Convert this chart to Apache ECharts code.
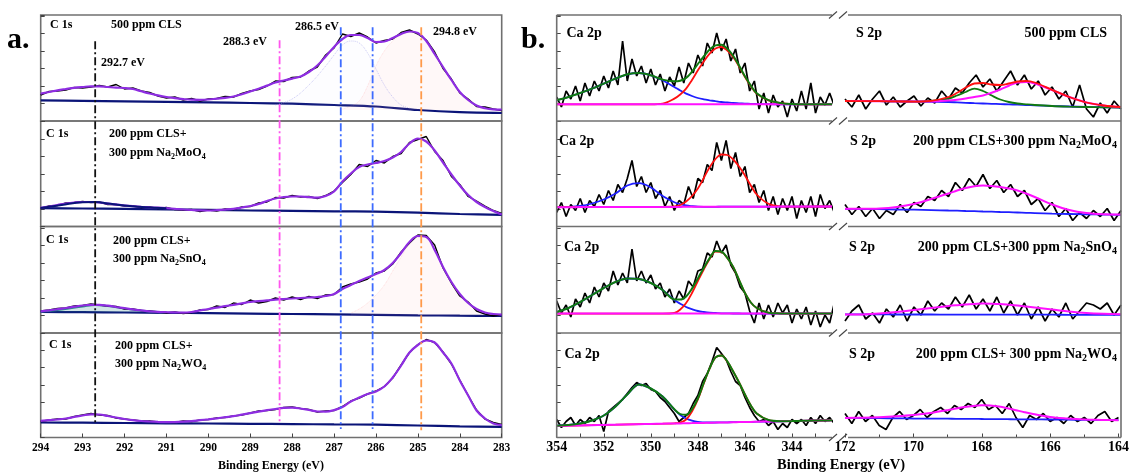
<!DOCTYPE html>
<html><head><meta charset="utf-8">
<script src="https://cdn.jsdelivr.net/npm/echarts@6/dist/echarts.min.js"></script>
<style>html,body{margin:0;padding:0;background:#fff}#c{width:1132px;height:472px}</style>
</head><body><div id="c"></div>
<script>
// ---------------- DATA ----------------
// Panel a: C 1s spectra (intensity in arbitrary units)
const cX = [294.0,293.8,293.6,293.4,293.2,293.0,292.8,292.6,292.4,292.2,292.0,291.8,291.6,291.4,291.2,291.0,290.8,290.6,290.4,290.2,290.0,289.8,289.6,289.4,289.2,289.0,288.8,288.6,288.4,288.2,288.0,287.8,287.6,287.4,287.2,287.0,286.8,286.6,286.4,286.2,286.0,285.8,285.6,285.4,285.2,285.0,284.8,284.6,284.4,284.2,284.0,283.8,283.6,283.4,283.2,283.0];
const c1Raw = [26,29.5,30,31,33.5,33,34,35.5,34,36.5,32,33,30,28.5,25,23,24,21,22.5,20,22,22.5,24.5,24,27.5,30,31.5,35,40,39.5,43.5,44,50,54,66,73,87,84.5,88,84,78,80.5,82,88.5,91,87,81,69,52.5,42,28,22,14.5,14,12,10.5];
const c1Fit = [27.4,29,30.7,32,33.2,34,34.6,34.6,34,33.4,33,32,29.7,27.5,25.6,24,22.8,21.9,21.3,21.2,21.5,22.3,23.1,24.5,26.7,29.5,32.3,35.4,38.5,40.5,42.4,44.5,49,55.5,64.5,74,82,86,86,83,79,79.5,83,87,89.5,88,80,67,54,41,29,21,15.5,12.8,11.6,11.4];
const c2Raw = [18,20.5,21,23.5,24,25,24,24.5,22,22,20.5,20.5,19,19.5,18,19,17,16.5,17,15,16.5,15.5,17.5,17,19.5,20,23.5,24.5,29,28.5,31,29.5,30,28,31,35.5,44,52,62,60,66,63.5,70,73,84,87,90,75,66,50,42,30,25.5,20.5,16,13];
const c2Fit = [18.7,20,21.5,23,24,24.5,24.5,24,22.8,21.8,21,20.3,19.7,19.2,18.8,18.3,17.7,17,16.5,16.1,16,16.3,16.9,17.7,19,20.5,22.5,25.5,28,29.5,30,30,29.3,28.8,30.5,35,45,53,59.5,62,63.5,65.5,69,74.5,83,88,85,76,64,52,41,31.5,24.5,19.5,15.5,12];
const c3Raw = [22,23,24.5,25,27,27.5,29,28,27,26.5,24,24,22.5,22,21,20,21,19.5,20.5,23,23.5,27,25.5,30,28.5,33,30,31.5,35,33,36,33.5,36.5,34.5,38,38.5,46,49,51,54,60,62,69,81,90,98,97.5,88,65,50,37,31,22,19,17,18.5];
const c3Fit = [21.7,22.7,23.8,25,26.3,27.5,28.2,28.2,27.3,26,24.8,23.6,22.6,21.7,21.1,20.8,20.6,20.4,21,22.5,24,25.3,26.8,28.2,29.6,31,31.8,32.6,33.4,34,34.5,35,35.5,36,37,39,44,48,52,55.5,59,63,70,80,91,97,96,83,66,51,39,30,24,20.5,19,18.4];
const c4Raw = [16,17.5,18.5,18.5,21,22.5,24,22.5,22,19.5,18.5,17.5,16.5,16.5,15.5,15.5,15,16.5,16,17.5,18,19.5,20,21.5,22.5,24.5,26.5,27,28,30,30.5,29,28,25.5,26.5,27,31,36.5,39.5,43.5,46.5,51,59.5,72.5,85,93,98,95,85.5,73.5,57.5,42,27.5,18.5,15,13];
const c4Fit = [16.6,17.3,18,19,20.5,22,23.2,23,21.5,20,18.5,17.3,16.5,16,15.6,15.3,15.4,15.8,16.4,17.3,18.2,19.2,20.3,21.3,22.8,24.3,25.8,27.3,28.5,29.6,29.8,29,27.5,26,25.9,27.4,30.5,36,40,43.5,46,51,60,72,85,92.5,97,95,85,74,57,42,27,19,14,12.3];
const bX = [294,293,292,291,290,289,288,287,286,285,284,283];
const c1Base = [20.7,20.2,19.7,19.2,18.7,18,17.3,16,14.5,11,8.8,8];
const c2Base = [18.3,18,17.6,17.2,16.6,16,15.6,15.2,14.8,13.8,12.5,11.7];
const c3Base = [21,20.8,20.5,20.2,19.8,19.4,19,18.6,18.2,17.7,17.3,17];
const c4Base = [15,14.8,14.5,14.2,14,13.7,13.4,13.1,12.8,12,11.2,10.6];
// fitted components (panel a)
const c1PeakX = [286.8,286.6,286.4,286.2,286.0,285.8,285.6,285.4,285.2,285.0,284.8,284.6,284.4,284.2,284.0,283.8,283.6,283.4,283.2,283.0];
const c1Peak = [12,15,20,35,55,70,80,86,89,87.5,80,67,54,41,29,21,15.5,12.8,11.6,11.4];
const c1MidX = [288.4,288.0,287.6,287.2,287.0,286.8,286.6,286.4,286.2,286.0,285.8,285.6,285.4,285.2];
const c1Mid = [16,22,36,55,66,76,80,78,68,52,36,24,16,13];
const c3PeakX = [286.6,286.4,286.2,286.0,285.8,285.6,285.4,285.2,285.0,284.8,284.6,284.4,284.2,284.0,283.8,283.6,283.4];
const c3Peak = [20,24,30,38,48,62,76,89,96,95,83,66,51,39,30,24,20.5];
const lowX = [294,293.5,293,292.7,292.4,292,291.5,291];
const c2Low = [18.5,21.5,24.3,24.5,23,21,19.3,18.3];
const c3Low = [21.5,23.5,26.5,28,27,24.5,22,20.5];
// reference energies (dash-dot lines)
const markerEV = [292.7, 288.3, 286.84, 286.08, 284.92];

// Panel b: Ca 2p and S 2p
const caX = [354.0,353.8,353.6,353.4,353.2,353.0,352.8,352.6,352.4,352.2,352.0,351.8,351.6,351.4,351.2,351.0,350.8,350.6,350.4,350.2,350.0,349.8,349.6,349.4,349.2,349.0,348.8,348.6,348.4,348.2,348.0,347.8,347.6,347.4,347.2,347.0,346.8,346.6,346.4,346.2,346.0,345.8,345.6,345.4,345.2,345.0,344.8,344.6,344.4,344.2,344.0,343.8,343.6,343.4,343.2,343.0,342.8,342.6,342.4,342.2];
const ca1Raw = [24,14,30,22,35,20,38,25,40,30,45,33,50,36,80,40,62,45,55,38,52,36,47,30,44,35,54,38,58,48,66,55,78,68,88,70,82,60,72,48,58,30,40,12,28,8,26,14,20,4,22,10,30,12,38,8,24,16,28,15];
const ca2Raw = [14,24,10,22,16,28,14,26,20,32,22,36,26,42,34,48,66,40,50,34,44,28,36,20,30,16,26,22,40,28,48,44,62,56,84,66,86,58,74,50,60,34,42,24,36,16,30,12,28,16,30,8,26,14,30,10,32,18,26,14];
const ca3Raw = [32,20,28,16,34,26,40,30,46,36,50,42,62,48,60,50,84,52,62,50,58,44,50,36,44,30,42,34,52,46,62,64,80,76,92,80,88,68,60,46,40,22,10,30,14,28,16,30,20,28,10,24,14,26,8,22,6,18,10,30];
const ca4Raw = [18,10,16,20,12,18,14,20,16,22,6,26,30,34,38,44,50,55,52,54,48,46,40,36,30,24,16,20,24,34,42,56,64,76,90,84,78,66,56,52,40,30,22,16,18,12,16,8,14,10,18,14,18,12,20,14,22,16,20,14];
const caFitX = [354,353.5,353,352.5,352,351.5,351,350.5,350,349.5,349,348.75,348.5,348.25,348,347.75,347.5,347.25,347,346.75,346.5,346.25,346,345.75,345.5,345,344.5,344,343.5,343,342.5,342.3];
const ca1Blue = [20.7,24,28,32.4,37.4,42.4,46.7,48,45.7,40.7,34,30.5,27.4,25,23,21.7,20.7,19.8,19,18.5,18,17.7,17.4,17.2,17,16.8,16.7,16.7,16.7,16.7,16.7,16.7];
const ca1Red = [16.7,16.7,16.7,16.7,16.7,16.7,16.7,16.7,16.7,17.4,22.4,26.5,32.4,41,50.7,59.5,67.4,72.5,74,70.5,64,54.5,44,35,27.4,20.7,18,16.9,16.7,16.7,16.7,16.7];
const ca1Green = [20.7,24,28,32.4,37.4,42.4,46.7,48,45.7,41.4,39.7,40.3,43.1,49.3,57,64.5,71.4,75.6,76.3,72.3,65.3,55.5,44.7,35.5,27.7,20.8,18,16.9,16.7,16.7,16.7,16.7];
const ca1Mag = [16.7,16.7,16.7,16.7,16.7,16.7,16.7,16.7,16.7,16.7,16.7,16.7,16.7,16.7,16.7,16.7,16.7,16.7,16.7,16.7,16.7,16.7,16.7,16.7,16.7,16.7,16.7,16.7,16.7,16.7,16.7,16.7];
const ca2Blue = [19.4,19.6,20.5,23,27,33,41,43.3,39,30.5,24.3,22.3,21,20.3,19.8,19.7,19.7,19.7,19.8,19.8,19.8,19.8,19.8,19.8,19.8,19.8,19.9,19.9,19.9,20,20,20];
const ca2Red = [19.3,19.3,19.4,19.4,19.4,19.5,19.5,19.5,19.6,19.6,20,21.5,25,30.5,38,48.5,59.3,67.5,72,71.5,67,60,51,41,32,22.7,20.2,19.9,19.9,20,20,20];
const ca2Mag = [19.3,19.3,19.4,19.4,19.4,19.5,19.5,19.5,19.6,19.6,19.6,19.6,19.7,19.7,19.7,19.7,19.7,19.7,19.8,19.8,19.8,19.8,19.8,19.8,19.8,19.8,19.9,19.9,19.9,20,20,20];
const ca3Blue = [21,25,31,38,45,51,54.5,54,50,43,33,29.3,26,23.8,22,21,20.3,20,19.7,19.6,19.5,19.5,19.4,19.4,19.4,19.4,19.4,19.4,19.4,19.4,19.4,19.4];
const ca3Red = [19.4,19.4,19.4,19.4,19.4,19.4,19.4,19.4,19.4,19.4,20,23.5,30,40,52,63.5,74,81.5,81,75,66,53,40,30.5,25,20.3,19.6,19.4,19.4,19.4,19.4,19.4];
const ca3Green = [21,25,31,38,45,51,54.5,54,50,43,33.6,33.4,36.6,44.4,54.6,65.1,74.9,82.1,81.3,75.2,66.1,53.1,40,30.5,25,20.3,19.6,19.4,19.4,19.4,19.4,19.4];
const ca3Mag = [19.4,19.4,19.4,19.4,19.4,19.4,19.4,19.4,19.4,19.4,19.4,19.4,19.4,19.4,19.4,19.4,19.4,19.4,19.4,19.4,19.4,19.4,19.4,19.4,19.4,19.4,19.4,19.4,19.4,19.4,19.4,19.4];
const ca4Blue = [11.8,12.5,14,17,22,31,43,53,49,41,28,22.5,19,16.8,15.5,15.1,15,15,15.1,15.2,15.3,15.4,15.5,15.6,15.8,16,16.2,16.4,16.7,16.9,17.1,17.3];
const ca4Red = [11.6,11.8,12.1,12.3,12.6,12.8,13.1,13.3,13.5,13.8,14.2,15,18,26,38,54,69,80,82,76,66,55,43,32,24,17.5,16.3,16.4,16.7,16.9,17.1,17.3];
const ca4Green = [11.8,12.5,14,17,22,31,43,53,49,41,28.2,23.4,22.7,28.4,39,54.5,69.2,80.1,82.1,76.1,66,55,43,32,24,17.5,16.3,16.4,16.7,16.9,17.1,17.3];
const ca4Mag = [11.6,11.8,12.1,12.3,12.6,12.8,13.1,13.3,13.5,13.8,14,14.1,14.3,14.4,14.5,14.6,14.8,14.9,15,15.1,15.3,15.4,15.5,15.6,15.8,16,16.2,16.4,16.7,16.9,17.1,17.3];

const sX = [172.0,171.8,171.6,171.4,171.2,171.0,170.8,170.6,170.4,170.2,170.0,169.8,169.6,169.4,169.2,169.0,168.8,168.6,168.4,168.2,168.0,167.8,167.6,167.4,167.2,167.0,166.8,166.6,166.4,166.2,166.0,165.8,165.6,165.4,165.2,165.0,164.8,164.6,164.4,164.2,164.0];
const s1Raw = [22,14,26,12,22,30,16,24,14,20,25,15,23,18,30,22,33,28,38,46,34,42,30,40,50,36,46,32,40,26,34,22,30,14,36,12,4,18,8,20,12];
const s2Raw = [22,12,20,10,18,8,16,12,22,14,24,20,30,26,36,30,44,36,48,40,52,38,46,34,42,30,36,22,28,16,24,10,18,6,14,8,16,10,18,6,16];
const s3Raw = [12,22,28,14,20,10,24,16,28,12,26,18,32,22,30,24,36,26,38,24,34,22,36,20,32,18,30,14,26,12,24,16,30,14,22,30,28,24,30,18,28];
const s4Raw = [24,14,26,16,22,12,8,20,26,18,22,28,20,26,30,24,32,28,34,30,38,28,32,24,34,20,10,22,18,24,16,20,14,22,16,20,14,22,26,16,20];
const sFitX = [172,171.5,171,170.5,170,169.5,169,168.75,168.5,168.25,168,167.75,167.5,167.25,167,166.75,166.5,166,165.5,165,164.5,164];
const s1Blue = [20,19.9,19.8,19.6,19.4,19.2,19,18.6,18.2,17.8,17.5,17.2,16.9,16.6,16.4,16,15.7,15,14.5,14,13.7,13.4];
const s1Green = [20,20,19.8,19.6,19.4,20,22.5,25.5,29,32.4,30,25.5,21.5,19,17.5,16.7,16,15,14.4,14,13.7,13.4];
const s1Mag = [20,19.9,19.8,19.6,19.4,19.5,20.5,21.3,22.5,24,25.5,28.3,31.5,35.3,38.5,39,37.5,31,24,18.5,15.5,14];
const s1Red = [20,19.9,19.8,19.6,19.4,20.1,24,28.2,33.5,37.5,38,36.5,36,37.5,39.5,40,38.5,31.2,24,18.5,15.5,14];
const s2Blue = [17.7,17.5,17.3,17,16.8,16.4,16,15.8,15.5,15.3,15,14.8,14.5,14.3,14,13.7,13.4,12.8,12.5,12.2,11.9,11.7];
const s2Mag = [17.7,17.7,18,19.5,22.5,27.5,33,36,38.5,40.3,41,40.5,39.5,38,36,33,29.5,22,16.5,13.5,12.3,12];
const s3Blue = [18.6,18.6,18.6,18.5,18.5,18.5,18.4,18.4,18.4,18.4,18.4,18.4,18.3,18.3,18.3,18.3,18.3,18.3,18.2,18.2,18.2,18.2];
const s3Mag = [18.4,18.6,19.5,21,23,25,27,27.8,28.5,29,29.4,29.3,29,28.3,27.5,26.5,25.5,23.5,21.5,20,19.2,18.8];
const s4Blue = [19.6,19.5,19.3,19.2,19,18.9,18.8,18.7,18.6,18.6,18.5,18.4,18.4,18.3,18.2,18.2,18.1,18,17.8,17.6,17.5,17.3];
const s4Mag = [19.6,19.8,20.3,21.2,22.5,24.5,27.3,29,30.5,31.6,32.3,32,31,29.3,27.3,25.3,23.5,20.5,19,18,17.6,17.3];
const caLabelTicks = [354,352,350,348,346,344];
const caMinorTicks = [354,353,352,351,350,349,348,347,346,345,344,343];

// Text
const cSamples = [['500 ppm CLS'], ['200 ppm CLS+','300 ppm Na_2MoO_4'], ['200 ppm CLS+','300 ppm Na_2SnO_4'], ['200 ppm CLS+','300 ppm Na_2WO_4']];
const bSamples = ['500 ppm CLS', '200 ppm CLS+300 ppm Na_2MoO_4', '200 ppm CLS+300 ppm Na_2SnO_4', '200 ppm CLS+ 300 ppm Na_2WO_4'];
const peakLabels = ['292.7 eV','288.3 eV','286.5 eV','294.8 eV'];

// ---------------- LAYOUT / STYLE ----------------
const FONT = '"Liberation Serif","Times New Roman",serif';
const ROW_T = [15, 121, 226.5, 333];
const ROW_B = [121, 226.5, 333, 437.5];
const A_L = 40.7, A_R = 501.7;
const CA_L = 556.7, CA_R = 832, S_L = 845, S_R = 1121;
const FRAME = '#707070';
const PURPLE = '#8e2de2', NAVY = '#0a1478';
const BLUE = '#1f1fff', RED = '#ff1010', GREEN = '#107a10', MAG = '#ff10ff';

const zip = (xs, ys) => xs.map((x, i) => [x, ys[i]]);
const grid = [], xAxis = [], yAxis = [], series = [];

function line(idx, data, color, width, z, extra) {
  series.push(Object.assign({
    type: 'line', xAxisIndex: idx, yAxisIndex: idx, data, symbol: 'none',
    lineStyle: { color, width }, itemStyle: { color }, z, silent: true, animation: false
  }, extra || {}));
}
function yAx(idx, h, showTicks) {
  return { gridIndex: idx, type: 'value', min: 0, max: h, interval: 17.5,
    axisLine: { show: false }, splitLine: { show: false },
    axisTick: { show: showTicks, inside: true, length: 4, lineStyle: { color: '#444' } },
    axisLabel: { show: false } };
}

// Panel a
const cRaw = [c1Raw, c2Raw, c3Raw, c4Raw];
const cFit = [c1Fit, c2Fit, c3Fit, c4Fit];
const cBase = [c1Base, c2Base, c3Base, c4Base];
for (let i = 0; i < 4; i++) {
  const idx = grid.length, h = ROW_B[i] - ROW_T[i], last = i === 3;
  grid.push({ left: A_L, width: A_R - A_L, top: ROW_T[i], height: h, show: true,
    borderColor: FRAME, borderWidth: 1.6, backgroundColor: 'transparent' });
  xAxis.push({ gridIndex: idx, type: 'value', min: 283, max: 294, inverse: true, interval: 1,
    axisLine: { show: false }, splitLine: { show: false },
    axisTick: { show: last, inside: true, length: 4, lineStyle: { color: '#444' } },
    axisLabel: { show: last, fontFamily: FONT, fontWeight: 'bold', fontSize: 11.5, color: '#000', margin: 5 } });
  yAxis.push(yAx(idx, h, true));
  line(idx, zip(bX, cBase[i]), NAVY, 2.2, 2, { smooth: 0.3 });
  if (i === 0) {
    line(idx, zip(c1PeakX, c1Peak), 'rgba(255,140,140,0.35)', 0.8, 3,
      { smooth: 0.4, lineStyle: { color: 'rgba(255,140,140,0.35)', width: 0.8, type: 'dotted' },
        areaStyle: { color: 'rgba(255,175,175,0.13)', origin: 11 } });
    line(idx, zip(c1MidX, c1Mid), 'rgba(160,160,235,0.55)', 1, 3,
      { smooth: 0.4, lineStyle: { color: 'rgba(160,160,235,0.55)', width: 1, type: 'dotted' },
        areaStyle: { color: 'rgba(205,205,250,0.06)', origin: 15 } });
  }
  if (i === 2) {
    line(idx, zip(c3PeakX, c3Peak), 'rgba(255,140,140,0.35)', 0.8, 3,
      { smooth: 0.4, lineStyle: { color: 'rgba(255,140,140,0.35)', width: 0.8, type: 'dotted' },
        areaStyle: { color: 'rgba(255,175,175,0.13)', origin: 17.5 } });
    line(idx, zip(lowX, c3Low), '#2a8a8a', 1.8, 3,
      { smooth: 0.4, areaStyle: { color: 'rgba(42,138,138,0.3)', origin: 20.5 } });
  }
  line(idx, zip(cX, cRaw[i]), '#000', 1.4, 4);
  line(idx, zip(cX, cFit[i]), PURPLE, 2.2, 5, { smooth: 0.4 });
  if (i === 1) line(idx, zip(lowX, c2Low), NAVY, 2, 6, { smooth: 0.4 });
}
// overlay for reference lines across the four C 1s frames
{
  const idx = grid.length;
  grid.push({ left: A_L, width: A_R - A_L, top: ROW_T[0], height: ROW_B[3] - ROW_T[0], show: false });
  xAxis.push({ gridIndex: idx, type: 'value', min: 283, max: 294, inverse: true, show: false });
  yAxis.push({ gridIndex: idx, type: 'value', min: 0, max: 1, show: false });
  const mTop = [0.938, 0.94, 0.971, 0.971, 0.971], mBot = [0.031, 0.034, 0.02, 0.02, 0.017];
  const mCol = ['#111111', '#ff55ee', '#3d6bff', '#3d6bff', '#ff9a4a'];
  markerEV.forEach((e, k) => {
    line(idx, [[e, mTop[k]], [e, mBot[k]]], mCol[k], 1.8, 8,
      { lineStyle: { color: mCol[k], width: 1.8, type: [8, 3, 2, 3] } });
  });
}

// Panel b
const caRaw = [ca1Raw, ca2Raw, ca3Raw, ca4Raw];
const caBlue = [ca1Blue, ca2Blue, ca3Blue, ca4Blue];
const caRed = [ca1Red, ca2Red, ca3Red, ca4Red];
const caGreen = [ca1Green, null, ca3Green, ca4Green];
const caMag = [ca1Mag, ca2Mag, ca3Mag, ca4Mag];
const sRaw = [s1Raw, s2Raw, s3Raw, s4Raw];
const sBlue = [s1Blue, s2Blue, s3Blue, s4Blue];
const sMag = [s1Mag, s2Mag, s3Mag, s4Mag];
const bLabel = { fontFamily: FONT, fontWeight: 'bold', fontSize: 14, color: '#000', margin: 3 };
for (let i = 0; i < 4; i++) {
  const h = ROW_B[i] - ROW_T[i], last = i === 3;
  let idx = grid.length;
  grid.push({ left: CA_L, width: CA_R - CA_L, top: ROW_T[i], height: h, show: false });
  xAxis.push({ gridIndex: idx, type: 'value', min: 342.3, max: 354, inverse: true,
    axisLine: { show: false }, splitLine: { show: false },
    axisTick: { show: last, inside: true, length: 4, customValues: caMinorTicks, lineStyle: { color: '#444' } },
    axisLabel: Object.assign({ show: last, customValues: caLabelTicks }, bLabel) });
  yAxis.push(yAx(idx, h, true));
  line(idx, zip(caX, caRaw[i]), '#000', 1.7, 2);
  line(idx, zip(caFitX, caBlue[i]), BLUE, 1.8, 3, { smooth: 0.35 });
  line(idx, zip(caFitX, caRed[i]), RED, 1.8, 4, { smooth: 0.35 });
  line(idx, zip(caFitX, caMag[i]), MAG, 2, 5, { smooth: 0.35 });
  if (caGreen[i]) line(idx, zip(caFitX, caGreen[i]), GREEN, 2, 6, { smooth: 0.35 });

  idx = grid.length;
  grid.push({ left: S_L, width: S_R - S_L, top: ROW_T[i], height: h, show: false });
  xAxis.push({ gridIndex: idx, type: 'value', min: 164, max: 172, inverse: true, interval: 2,
    axisLine: { show: false }, splitLine: { show: false },
    axisTick: { show: last, inside: true, length: 4, lineStyle: { color: '#444' } },
    minorTick: { show: last, splitNumber: 2, length: 3, lineStyle: { color: '#444' } },
    axisLabel: Object.assign({ show: last }, bLabel) });
  yAxis.push(yAx(idx, h, false));
  line(idx, zip(sX, sRaw[i]), '#000', 1.7, 2);
  line(idx, zip(sFitX, sBlue[i]), BLUE, 1.8, 3, { smooth: 0.35 });
  if (i === 0) line(idx, zip(sFitX, s1Green), GREEN, 1.8, 4, { smooth: 0.35 });
  line(idx, zip(sFitX, sMag[i]), MAG, 2, 5, { smooth: 0.35 });
  if (i === 0) line(idx, zip(sFitX, s1Red), RED, 1.8, 6, { smooth: 0.35 });
}

// ---------------- GRAPHICS (frames, break marks, text) ----------------
const els = [];
function seg(x1, y1, x2, y2, w, c) {
  els.push({ type: 'line', silent: true, z: 50, shape: { x1, y1, x2, y2 }, style: { stroke: c || FRAME, lineWidth: w || 1.6 } });
}
seg(CA_L, ROW_T[0], CA_L, ROW_B[3]);
seg(S_R, ROW_T[0], S_R, ROW_B[3]);
[ROW_T[0], ROW_T[1], ROW_T[2], ROW_T[3], ROW_B[3]].forEach(y => {
  seg(CA_L, y, CA_R, y);
  seg(S_L + 3, y, S_R, y);
  seg(829, y + 3.5, 837, y - 3.5, 1.1, '#444');
  seg(839, y + 3.5, 847, y - 3.5, 1.1, '#444');
});
function richText(str) {
  return '{n|' + str.replace(/_(\d)/g, '}{s|$1}{n|') + '}';
}
function txt(x, y, str, size, align) {
  els.push({ type: 'text', x, y, z: 100, silent: true, style: {
    text: richText(str), align: align || 'left', verticalAlign: 'middle',
    fontFamily: FONT, fontWeight: 'bold', fontSize: size, fill: '#000',
    rich: {
      n: { fontFamily: FONT, fontWeight: 'bold', fontSize: size, fill: '#000', color: '#000', lineHeight: size + 4 },
      s: { fontFamily: FONT, fontWeight: 'bold', fontSize: Math.round(size * 0.68), fill: '#000', color: '#000', lineHeight: 9, verticalAlign: 'bottom' }
    } } });
}
txt(7, 40, 'a.', 30);
txt(521, 40, 'b.', 30);
const cNameY = [25, 133.5, 240, 345];
const cNameX = [50, 46, 46, 49];
const cSampX = [111, 109, 113, 115];
for (let i = 0; i < 4; i++) {
  txt(cNameX[i], cNameY[i], 'C 1s', 12);
  cSamples[i].forEach((s, k) => txt(cSampX[i], cNameY[i] + (i === 0 ? 0 : 0.5) + k * 18.5, s, 12));
}
txt(101, 63.3, peakLabels[0], 12);
txt(223, 41.7, peakLabels[1], 12);
txt(295, 26.7, peakLabels[2], 12);
txt(433, 32.3, peakLabels[3], 12);
const bRowY = [33.3, 141.7, 247.7, 354.3];
const caNameX = [566.5, 559, 564, 564.5];
const sNameX = [856, 850, 849, 849];
const sampRight = [1107, 1117, 1117, 1117];
for (let i = 0; i < 4; i++) {
  txt(caNameX[i], bRowY[i], 'Ca 2p', 14);
  txt(sNameX[i], bRowY[i], 'S 2p', 14);
  txt(sampRight[i], bRowY[i], bSamples[i], 14, 'right');
}
txt(271, 466, 'Binding Energy (eV)', 12, 'center');
txt(841, 465, 'Binding Energy (eV)', 14.5, 'center');

const chart = echarts.init(document.getElementById('c'), null, { renderer: 'canvas' });
chart.setOption({ animation: false, backgroundColor: '#fff', grid, xAxis, yAxis, series, graphic: { elements: els } });
</script></body></html>
